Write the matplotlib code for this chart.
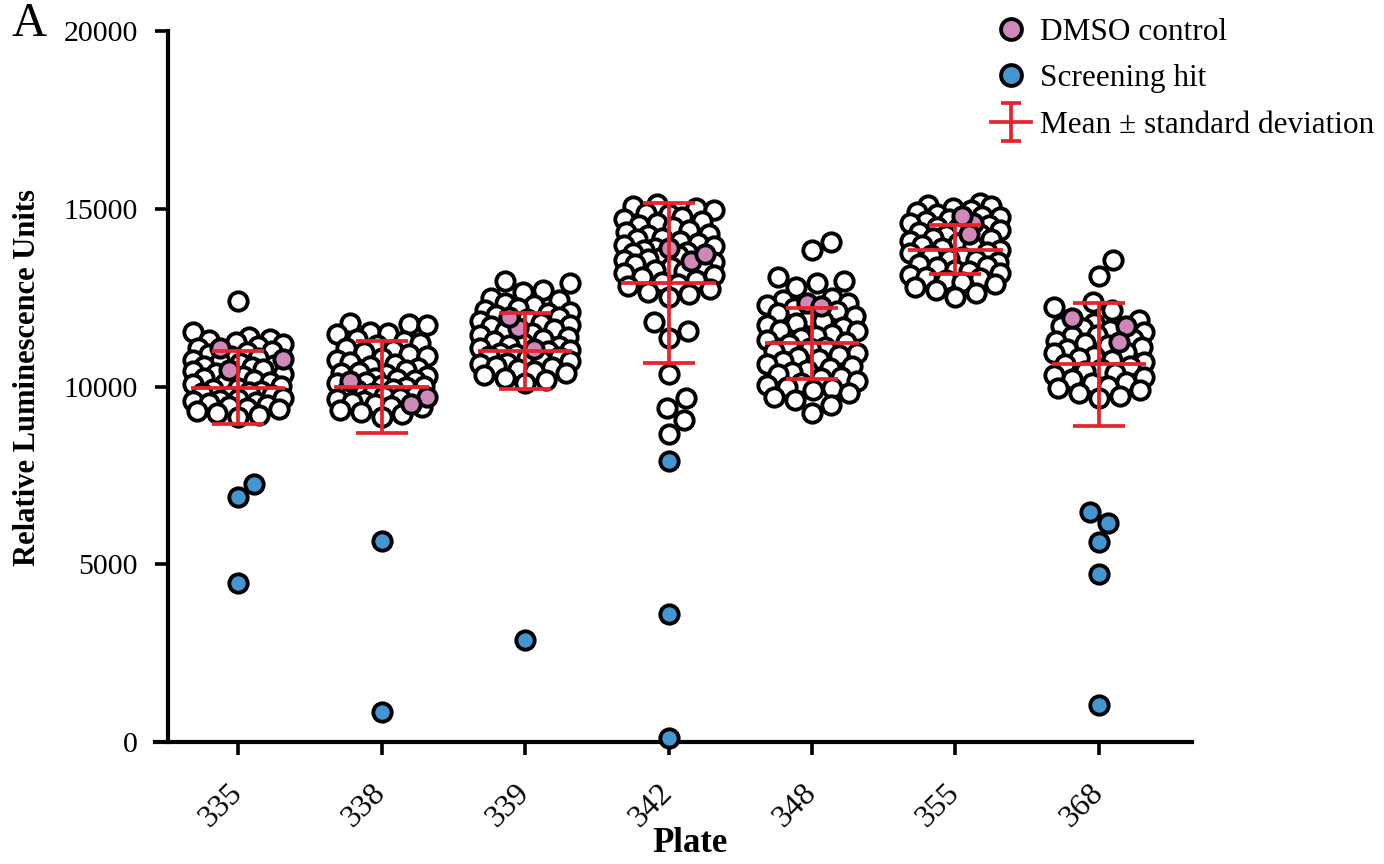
import numpy as np
import matplotlib
matplotlib.use("Agg")
import matplotlib.pyplot as plt
from matplotlib.legend_handler import HandlerErrorbar

plt.rcParams['font.family'] = ['Liberation Serif', 'DejaVu Serif']

plates = ['335', '338', '339', '342', '348', '355', '368']

# library compounds (open circles)
white_335 = [12410, 11540, 11390, 11350, 11300, 11240, 11190, 11130, 11080, 11010, 10960,
             10920, 10870, 10790, 10740, 10700, 10650, 10610, 10570, 10540, 10490, 10430,
             10380, 10350, 10290, 10230, 10190, 10140, 10090, 10060, 10010, 9970, 9930,
             9880, 9840, 9810, 9760, 9720, 9690, 9650, 9630, 9600, 9570, 9540, 9490,
             9440, 9400, 9360, 9310, 9260, 9200, 9140]
white_338 = [11790, 11760, 11720, 11540, 11510, 11470, 11330, 11290, 11230, 11170, 11090,
             11030, 10980, 10920, 10870, 10790, 10740, 10690, 10630, 10580, 10520, 10470,
             10420, 10390, 10340, 10300, 10250, 10220, 10170, 10130, 10090, 10050, 10020,
             9980, 9940, 9890, 9850, 9810, 9770, 9730, 9690, 9650, 9600, 9560, 9510,
             9460, 9410, 9350, 9290, 9220, 9150]
white_339 = [12970, 12900, 12710, 12650, 12480, 12440, 12360, 12290, 12220, 12160, 12110,
             12070, 12010, 11960, 11910, 11850, 11790, 11740, 11690, 11630, 11570, 11510,
             11450, 11400, 11340, 11280, 11230, 11180, 11130, 11080, 11040, 10990, 10950,
             10910, 10870, 10830, 10790, 10750, 10710, 10670, 10630, 10590, 10540, 10490,
             10430, 10370, 10310, 10240, 10170, 10090]
white_342 = [15120, 15080, 15010, 14960, 14890, 14840, 14770, 14720, 14650, 14600, 14530,
             14480, 14410, 14360, 14300, 14250, 14190, 14150, 14090, 14050, 13990, 13950,
             13890, 13850, 13790, 13750, 13690, 13650, 13590, 13550, 13490, 13440, 13390,
             13350, 13290, 13240, 13190, 13130, 13070, 13010, 12950, 12890, 12820, 12750,
             12670, 12590, 12510, 11810, 11560, 11370, 10350, 9680, 9400, 9060, 8670]
white_348 = [14070, 13840, 13080, 12970, 12910, 12800, 12490, 12430, 12360, 12280, 12210,
             12130, 12070, 11990, 11930, 11850, 11790, 11720, 11670, 11600, 11550, 11480,
             11430, 11360, 11310, 11240, 11190, 11120, 11070, 11000, 10950, 10880, 10830,
             10760, 10710, 10640, 10590, 10520, 10470, 10400, 10350, 10280, 10230, 10160,
             10110, 10040, 9990, 9960, 9900, 9820, 9700, 9610, 9480, 9260]
white_355 = [15150, 15110, 15070, 15010, 14960, 14910, 14860, 14800, 14760, 14700, 14660,
             14590, 14550, 14490, 14450, 14390, 14350, 14290, 14250, 14190, 14150, 14090,
             14050, 13990, 13950, 13890, 13850, 13790, 13750, 13690, 13650, 13590, 13550,
             13490, 13450, 13390, 13350, 13290, 13250, 13190, 13150, 13090, 13050, 12990,
             12940, 12870, 12800, 12710, 12620, 12520]
white_368 = [13560, 13110, 12380, 12240, 12150, 11870, 11790, 11700, 11650, 11580, 11530,
             11460, 11410, 11340, 11290, 11220, 11170, 11100, 11050, 10980, 10930, 10860,
             10810, 10740, 10690, 10620, 10570, 10500, 10450, 10380, 10330, 10260, 10210,
             10140, 10090, 10020, 9970, 9900, 9820, 9740, 9680]

# DMSO controls (pink)
dmso_335 = [10460, 10770, 11080]
dmso_338 = [10150, 9710, 9510]
dmso_339 = [11650, 11950, 11060]
dmso_342 = [13530, 13900, 13730]
dmso_348 = [12350, 12270]
dmso_355 = [14600, 14800, 14290]
dmso_368 = [11930, 11700, 11250]

# screening hits (blue)
hit_335 = [7260, 6890, 4470]
hit_338 = [5650, 840]
hit_339 = [2870]
hit_342 = [7900, 3600, 110]
hit_348 = []
hit_355 = []
hit_368 = [6470, 6160, 5630, 4730, 1040]

# mean and standard deviation per plate
means = [9970, 9990, 11000, 12910, 11220, 13850, 10620]
sds = [1030, 1290, 1080, 2250, 1000, 680, 1730]

whites = [white_335, white_338, white_339, white_342, white_348, white_355, white_368]
dmsos = [dmso_335, dmso_338, dmso_339, dmso_342, dmso_348, dmso_355, dmso_368]
hits = [hit_335, hit_338, hit_339, hit_342, hit_348, hit_355, hit_368]

PINK = '#CE89BA'
BLUE = '#4496D3'
RED = '#E8232B'


def swarm(ypx, d=21.0, cap=45.0):
    # greedy beeswarm in pixel space, overlapping once the cap is reached
    order = np.argsort(ypx)
    xs = np.zeros(len(ypx))
    done = []
    for i in order:
        y = ypx[i]
        near = [(xs[j], ypx[j]) for j in done if abs(ypx[j] - y) < d]
        cands = [0.0]
        for xj, yj in near:
            dx = np.sqrt(d * d - (yj - y) ** 2)
            cands += [xj + dx, xj - dx]
        cands = sorted(cands, key=abs)
        chosen = None
        for c in cands:
            if abs(c) > cap:
                break
            if all((c - xj) ** 2 + (y - yj) ** 2 >= d * d - 1e-6 for xj, yj in near):
                chosen = c
                break
        if chosen is None:
            grid = np.linspace(-cap, cap, 41)
            score = [min((g - xj) ** 2 + (y - yj) ** 2 for xj, yj in near) for g in grid]
            chosen = grid[int(np.argmax(score))]
        xs[i] = chosen
        done.append(i)
    return xs


fig = plt.figure(figsize=(13.84, 8.64), dpi=100)
ax = fig.add_axes([0.11185, 0.1412, 0.7496, 0.8229])
ax.set_xlim(-0.58, 6.65)
ax.set_ylim(0, 20000)

ppc = ax.transData.transform((1, 0))[0] - ax.transData.transform((0, 0))[0]

mk = dict(linestyle='none', marker='o', markersize=13.2, markeredgewidth=2.8,
          markeredgecolor='black', clip_on=False)

for i in range(len(plates)):
    vals = np.array(whites[i] + dmsos[i] + hits[i], dtype=float)
    ypx = ax.transData.transform(np.column_stack([np.zeros(len(vals)), vals]))[:, 1]
    xo = i + swarm(ypx) / ppc
    nw, nd = len(whites[i]), len(dmsos[i])
    ax.plot(xo[:nw], vals[:nw], markerfacecolor='white', zorder=3, **mk)
    ax.plot(xo[nw:nw + nd], vals[nw:nw + nd], markerfacecolor=PINK, zorder=4, **mk)
    ax.plot(xo[nw + nd:], vals[nw + nd:], markerfacecolor=BLUE, zorder=4, **mk)

xpos = np.arange(len(plates))
ax.hlines(means, xpos - 0.33, xpos + 0.33, color=RED, linewidth=2.7, zorder=6)
ax.errorbar(xpos, means, yerr=sds, fmt='none', ecolor=RED, elinewidth=2.7,
            capsize=18.5, capthick=2.7, zorder=6)

# legend proxies (bigger circles than the data)
lk = dict(mk, markersize=15)
h_dmso, = ax.plot([], [], markerfacecolor=PINK, **lk)
h_hit, = ax.plot([], [], markerfacecolor=BLUE, **lk)
h_err = ax.errorbar([np.nan], [np.nan], yerr=[1.0], fmt='-', color=RED, linewidth=2.7,
                    elinewidth=2.7, capsize=7.5, capthick=2.7)
fig.legend([h_dmso, h_hit, h_err],
           ['DMSO control', 'Screening hit', 'Mean \u00b1 standard deviation'],
           loc='upper left', bbox_to_anchor=(0.6955, 1.012), frameon=False,
           fontsize=22.5, handlelength=1.3, handletextpad=0.28, labelspacing=0.56,
           handler_map={type(h_err): HandlerErrorbar(xerr_size=0.5, yerr_size=0.6)})

for s in ['top', 'right']:
    ax.spines[s].set_visible(False)
ax.spines['left'].set_position(('data', -0.49))
ax.spines['left'].set_linewidth(3)
ax.spines['bottom'].set_linewidth(3)

ax.set_yticks([0, 5000, 10000, 15000, 20000])
ax.set_xticks(xpos)
ax.set_xticklabels(plates, rotation=45, ha='right', va='center', rotation_mode='anchor')
ax.tick_params(axis='both', direction='out', length=9.5, width=2.6, labelsize=21.5)
ax.tick_params(axis='y', pad=12)
ax.tick_params(axis='x', pad=24, labelsize=23)

ax.set_ylabel('Relative Luminescence Units', fontsize=22, fontweight='bold')
ax.yaxis.set_label_coords(-0.1087, 0.513)
ax.set_xlabel('Plate', fontsize=25, fontweight='bold')
ax.xaxis.set_label_coords(0.516, -0.12)

fig.text(12 / 1384, 1 - 2 / 864, 'A', fontsize=35, va='top', ha='left')

fig.savefig('out.png', dpi=100)
